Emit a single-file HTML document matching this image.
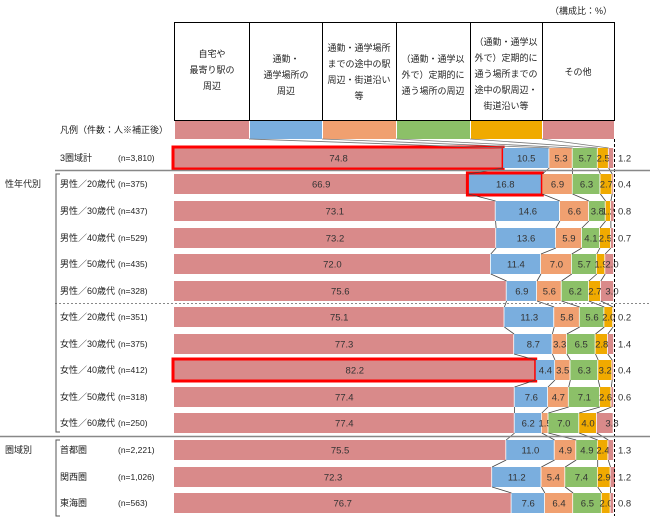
<!DOCTYPE html>
<html><head><meta charset="utf-8"><style>
body{margin:0;background:#fff;}
svg{display:block;font-family:"Liberation Sans","Noto Sans CJK JP",sans-serif;}
</style></head><body>
<svg id="s" width="650" height="526" xmlns="http://www.w3.org/2000/svg">
<text x="612" y="14" font-size="9" text-anchor="end" fill="#222">（構成比：%）</text>
<g stroke="#000" stroke-width="1" fill="none">
<rect x="174.5" y="22.5" width="440" height="98"/>
<line x1="249.5" y1="22" x2="249.5" y2="121"/><line x1="322.5" y1="22" x2="322.5" y2="121"/>
<line x1="396.5" y1="22" x2="396.5" y2="121"/><line x1="470.5" y1="22" x2="470.5" y2="121"/>
<line x1="542.5" y1="22" x2="542.5" y2="121"/>
</g>
<g font-size="9" fill="#222" text-anchor="middle">
<text x="212" y="57">自宅や</text><text x="212" y="73">最寄り駅の</text><text x="212" y="89">周辺</text>
<text x="286" y="62">通勤・</text><text x="286" y="78">通学場所の</text><text x="286" y="94">周辺</text>
<text x="359" y="51">通勤・通学場所</text><text x="359" y="67">までの途中の駅</text><text x="359" y="83">周辺・街道沿い</text><text x="359" y="99">等</text>
<text x="433" y="62">（通勤・通学以</text><text x="433" y="78">外で）定期的に</text><text x="433" y="94">通う場所の周辺</text>
<text x="506" y="45">（通勤・通学以</text><text x="506" y="61">外で）定期的に</text><text x="506" y="77">通う場所までの</text><text x="506" y="93">途中の駅周辺・</text><text x="506" y="109">街道沿い等</text>
<text x="578" y="75">その他</text>
</g>
<g id="leg"></g>
<text x="60" y="133" font-size="9" fill="#222">凡例（件数：人※補正後）</text>
<g id="rows"></g>
<line x1="614.5" y1="139" x2="614.5" y2="516" stroke="#000" stroke-dasharray="3,2"/>
<line x1="55" y1="170.5" x2="650" y2="170.5" stroke="#888" stroke-width="1.5"/>
<line x1="55" y1="303.5" x2="650" y2="303.5" stroke="#888" stroke-dasharray="2,2"/>
<line x1="0" y1="436.5" x2="650" y2="436.5" stroke="#888" stroke-width="1.5"/>
<path d="M60 174 H56 V432 H60 M60 440 H56 V516 H60" stroke="#555" fill="none"/>
<text x="5" y="187" font-size="9" fill="#222">性年代別</text>
<text x="5" y="453" font-size="9" fill="#222">圏域別</text>
</svg>
<script>
var C=["#d98a8a","#7aaede","#f0a070","#8cc068","#f0aa00","#d98a8a"];
var xs=[174,249,322,396,470,542,614];
var leg=document.getElementById('leg');var h='';
for(var i=0;i<6;i++)h+='<rect x="'+(xs[i]+1)+'" y="121" width="'+(xs[i+1]-xs[i]-1)+'" height="18" fill="'+C[i]+'"/>';
leg.innerHTML=h;
var R=[["3圏域計","(n=3,810)",[74.8,10.5,5.3,5.7,2.5,1.2]],
["男性／20歳代","(n=375)",[66.9,16.8,6.9,6.3,2.7,0.4]],
["男性／30歳代","(n=437)",[73.1,14.6,6.6,3.8,1.2,0.8]],
["男性／40歳代","(n=529)",[73.2,13.6,5.9,4.1,2.5,0.7]],
["男性／50歳代","(n=435)",[72.0,11.4,7.0,5.7,1.9,2.0]],
["男性／60歳代","(n=328)",[75.6,6.9,5.6,6.2,2.7,3.0]],
["女性／20歳代","(n=351)",[75.1,11.3,5.8,5.6,2.0,0.2]],
["女性／30歳代","(n=375)",[77.3,8.7,3.3,6.5,2.8,1.4]],
["女性／40歳代","(n=412)",[82.2,4.4,3.5,6.3,3.2,0.4]],
["女性／50歳代","(n=318)",[77.4,7.6,4.7,7.1,2.6,0.6]],
["女性／60歳代","(n=250)",[77.4,6.2,1.5,7.0,4.0,3.8]],
["首都圏","(n=2,221)",[75.5,11.0,4.9,4.9,2.4,1.3]],
["関西圏","(n=1,026)",[72.3,11.2,5.4,7.4,2.9,1.2]],
["東海圏","(n=563)",[76.7,7.6,6.4,6.5,2.0,0.8]]];
var ys=[158,184,211,238,264,291,317,344,370,397,423,450,477,503];
var X0=174,W=440,BH=20;h='';var prev=null;
var red={"0_0":1,"1_1":1,"8_0":1};
R.forEach(function(r,k){var y=ys[k],top=y-BH/2,acc=0,edges=[];
h+='<text x="60" y="'+(y+3)+'" font-size="9" fill="#222">'+r[0]+'</text>';
h+='<text x="118" y="'+(y+3)+'" font-size="8.5" fill="#222">'+r[1]+'</text>';
r[2].forEach(function(v,i){var x=X0+acc/100*W,w=v/100*W;acc+=v;
h+='<rect x="'+x.toFixed(1)+'" y="'+top+'" width="'+Math.max(w-0.8,0.3).toFixed(1)+'" height="'+BH+'" fill="'+C[i]+'"/>';
edges.push(X0+acc/100*W);
var tx=x+w/2,anchor='middle';
if(i==5&&v<1.8){tx=X0+W+4;anchor='start';}
if(i==5&&v>=1.8){tx=Math.max(tx,X0+W-2);}
h+='<text x="'+tx.toFixed(1)+'" y="'+(y+3.5)+'" font-size="9.5" fill="#333" text-anchor="'+anchor+'">'+v.toFixed(1)+'</text>';
if(red[k+"_"+i])h+='<rect x="'+(x-1).toFixed(1)+'" y="'+(top-1)+'" width="'+(w+1).toFixed(1)+'" height="'+(BH+2)+'" fill="none" stroke="#f00" stroke-width="3"/>';
});
if(prev){for(var j=0;j<5;j++)h+='<line x1="'+prev[j].toFixed(1)+'" y1="'+(ys[k-1]+BH/2)+'" x2="'+edges[j].toFixed(1)+'" y2="'+top+'" stroke="#444" stroke-width="0.8"/>';}
else{for(var j=0;j<5;j++)h+='<line x1="'+xs[j+1]+'" y1="139" x2="'+edges[j].toFixed(1)+'" y2="'+top+'" stroke="#777" stroke-width="0.8"/>';}
prev=edges;});
document.getElementById('rows').innerHTML=h;
</script>
</body></html>
